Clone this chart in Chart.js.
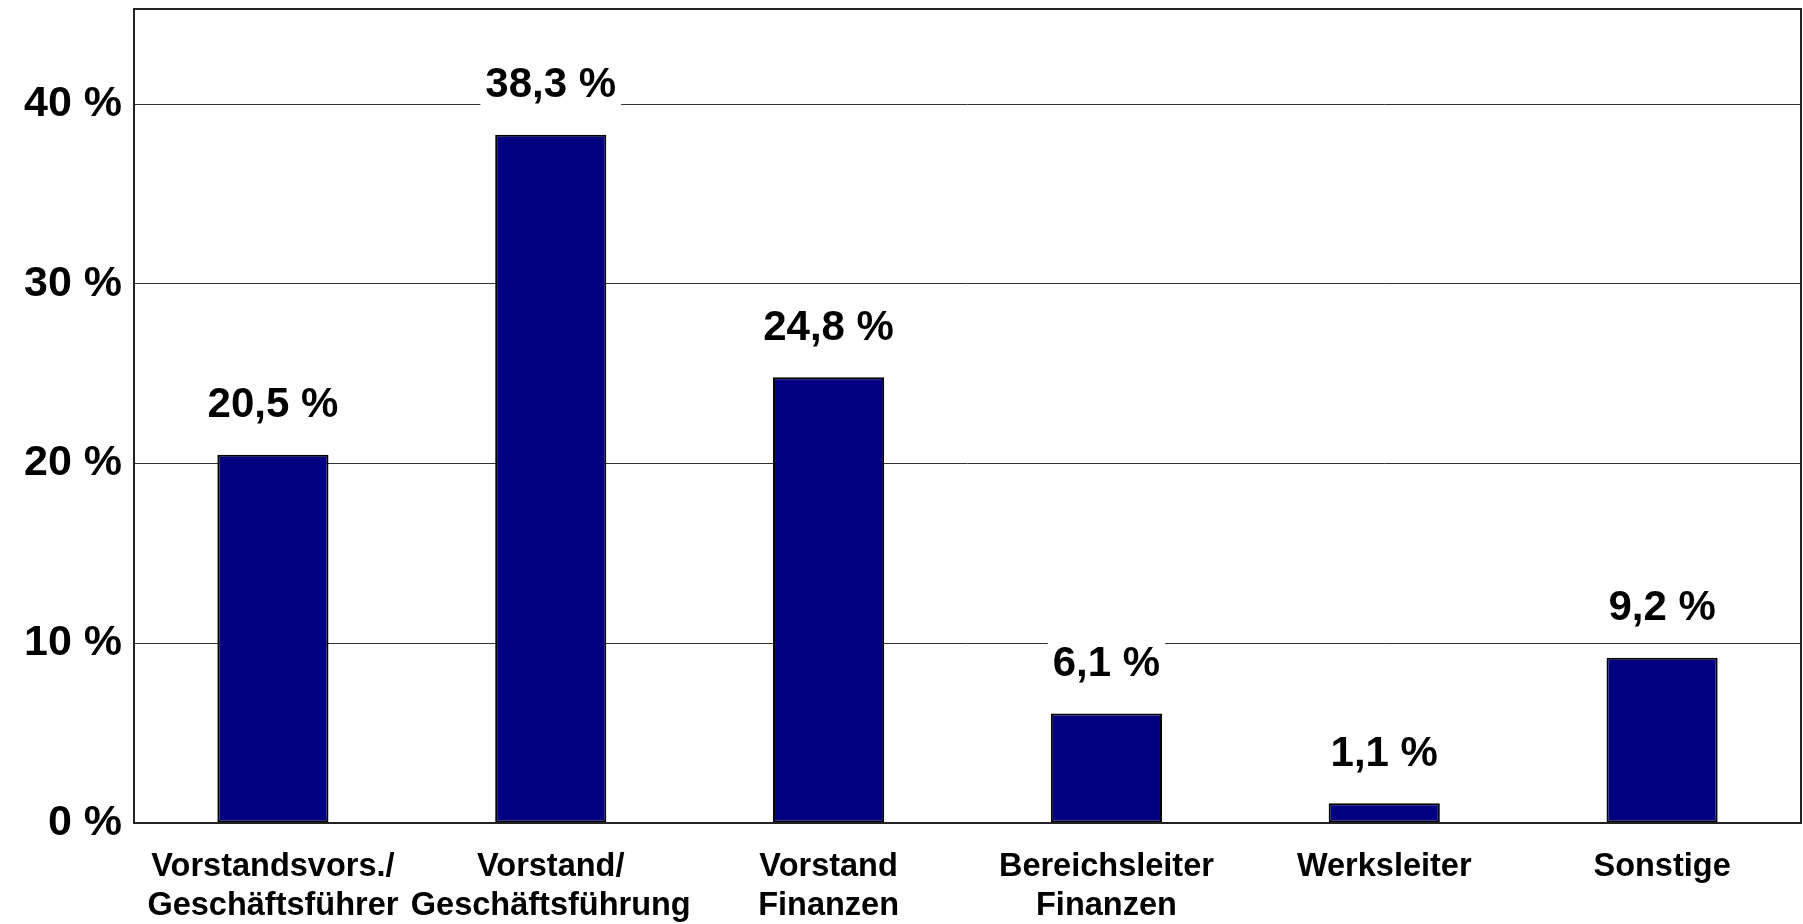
<!DOCTYPE html>
<html>
<head>
<meta charset="utf-8">
<script src="https://cdn.jsdelivr.net/npm/chart.js@4/dist/chart.umd.min.js"></script>
<style>
  html, body { margin: 0; padding: 0; background: #fff; }
  #wrap { width: 1803px; height: 924px; }
</style>
</head>
<body>
<div id="wrap"><canvas id="cnv"></canvas></div>
<script>
const categories = [
  ["Vorstandsvors./", "Geschäftsführer"],
  ["Vorstand/", "Geschäftsführung"],
  ["Vorstand", "Finanzen"],
  ["Bereichsleiter", "Finanzen"],
  "Werksleiter",
  "Sonstige"
];
const shares = [20.5, 38.3, 24.8, 6.1, 1.1, 9.2];
const yTicks = [0, 10, 20, 30, 40];

const fontFamily = "'Liberation Sans', Arial, sans-serif";
const fmt = v => v.toFixed(1).replace(".", ",") + " %";

// value labels above the bars, with white box cutting the grid lines
const valueLabels = {
  id: "valueLabels",
  afterDatasetsDraw(chart) {
    const ctx = chart.ctx;
    const meta = chart.getDatasetMeta(0);
    ctx.save();
    ctx.font = "bold 42px " + fontFamily;
    ctx.textAlign = "center";
    ctx.textBaseline = "middle";
    meta.data.forEach((bar, i) => {
      const txt = fmt(shares[i]);
      const w = ctx.measureText(txt).width;
      const y = bar.y - 49;
      ctx.fillStyle = "#fff";
      ctx.fillRect(bar.x - w / 2 - 5, y - 24, w + 10, 46);
      ctx.fillStyle = "#000";
      ctx.fillText(txt, bar.x, y);
    });
    ctx.restore();
  }
};

// frame round the plot area
const frame = {
  id: "frame",
  afterDraw(chart) {
    const { left, top, right, bottom } = chart.chartArea;
    const ctx = chart.ctx;
    ctx.save();
    ctx.strokeStyle = "#222";
    ctx.lineWidth = 2;
    ctx.strokeRect(left, top, right - left, bottom - top);
    ctx.restore();
  }
};

new Chart("cnv", {
  type: "bar",
  data: {
    labels: categories,
    datasets: [{
      data: shares,
      backgroundColor: "#000080",
      borderColor: "#000",
      borderWidth: 2,
      borderSkipped: false,
      barPercentage: 0.4,
      categoryPercentage: 1
    }]
  },
  options: {
    responsive: true,
    maintainAspectRatio: false,
    animation: false,
    layout: { padding: { top: 9, right: 2, left: 0, bottom: 0 } },
    plugins: { legend: { display: false }, tooltip: { enabled: false } },
    scales: {
      x: {
        grid: { display: false, drawTicks: false },
        border: { display: false },
        ticks: {
          color: "#000",
          padding: 25,
          maxRotation: 0,
          autoSkip: false,
          font: { family: fontFamily, size: 32.5, weight: "bold", lineHeight: 1.2 }
        },
        afterFit(s) { s.height = 101; s.paddingLeft = 0; s.paddingRight = 0; }
      },
      y: {
        min: 0,
        max: 45.3,
        afterBuildTicks(s) { s.ticks = yTicks.map(v => ({ value: v })); },
        grid: { color: "#333", lineWidth: 1, drawTicks: false },
        border: { display: false },
        ticks: {
          color: "#000",
          padding: 12,
          font: { family: fontFamily, size: 43, weight: "bold" },
          callback: v => v + " %"
        },
        afterFit(s) { s.width = 134; s.paddingTop = 0; s.paddingBottom = 0; }
      }
    }
  },
  plugins: [valueLabels, frame]
});
</script>
</body>
</html>
